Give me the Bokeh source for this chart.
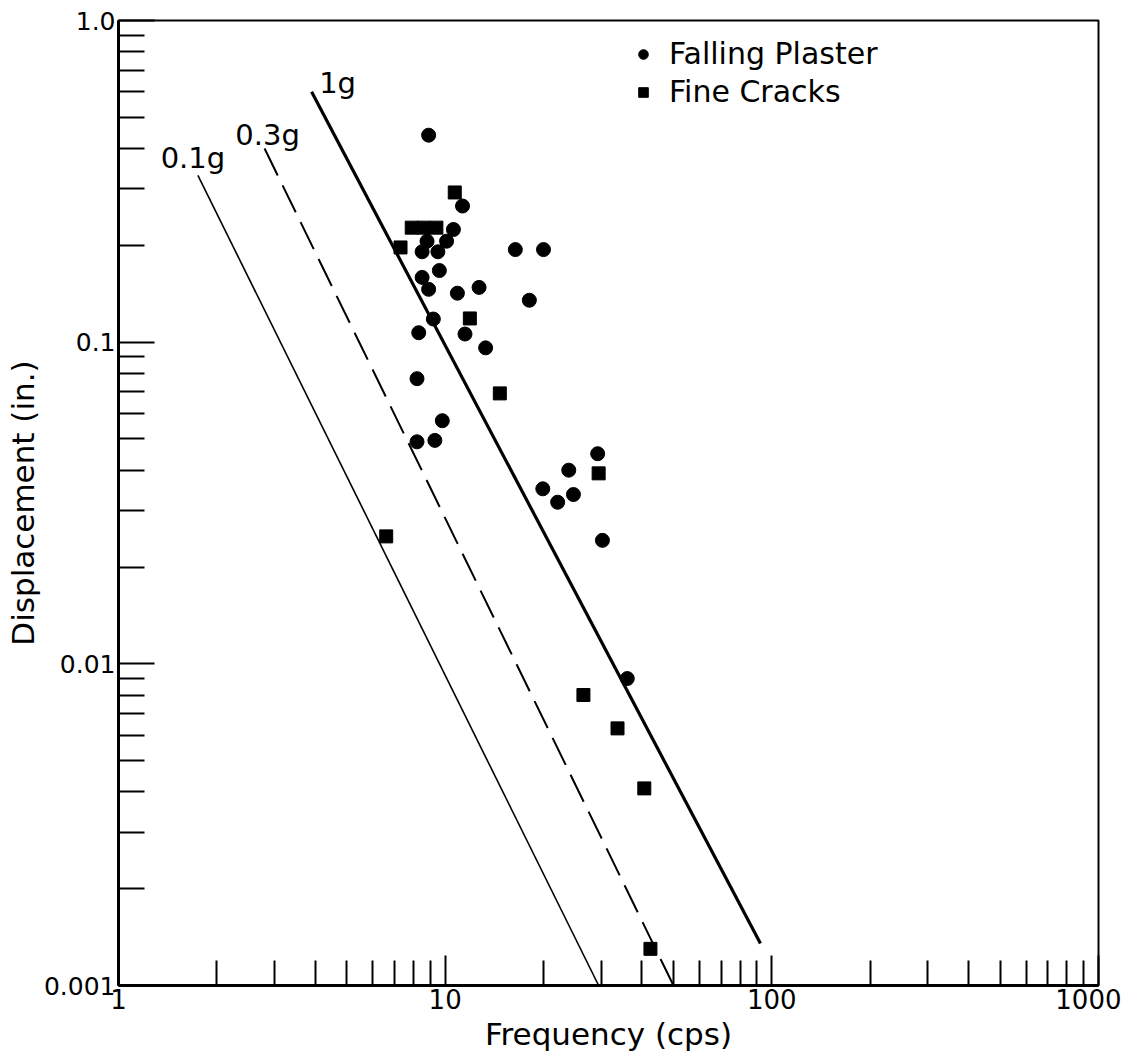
from bokeh.plotting import figure
from bokeh.models import FixedTicker, CustomJSTickFormatter, Legend, LegendItem
from bokeh.core.properties import value
from bokeh.embed import file_html
from bokeh.resources import INLINE

# ---- data ----
plaster_f = [8.9, 11.3, 10.6, 10.1, 8.8, 8.5, 9.5, 9.6, 8.5, 8.9, 10.9, 12.7, 16.4, 20.0, 18.1,
             9.2, 8.3, 11.5, 13.3, 8.2, 9.8, 8.2, 9.3, 29.3, 23.9, 19.9, 24.7, 22.1, 30.3, 36.1]
plaster_d = [0.44, 0.265, 0.224, 0.206, 0.206, 0.191, 0.191, 0.167, 0.159, 0.146, 0.142, 0.148,
             0.194, 0.194, 0.135, 0.118, 0.107, 0.106, 0.096, 0.077, 0.057, 0.049, 0.0495, 0.045,
             0.040, 0.035, 0.0336, 0.0318, 0.0242, 0.009]

cracks_f = [10.7, 7.9, 8.6, 9.4, 7.3, 11.9, 14.7, 29.5, 6.6, 26.5, 33.7, 40.7, 42.5]
cracks_d = [0.292, 0.227, 0.227, 0.227, 0.197, 0.1185, 0.0693, 0.0391, 0.0249, 0.0080, 0.0063,
            0.0041, 0.0013]

g01_f = [1.75, 29.5]
g01_d = [0.33, 0.001]
g03_f = [2.8, 50.0]
g03_d = [0.40, 0.001]
g1_f = [3.9, 92.3]
g1_d = [0.60, 0.00135]

line_labels = ["0.1g", "0.3g", "1g"]
series_names = ["Falling Plaster", "Fine Cracks"]

x_major = [1, 10, 100, 1000]
x_tick_labels = ["1", "10", "100", "1000"]
y_major = [0.001, 0.01, 0.1, 1.0]
y_tick_labels = ["0.001", "0.01", "0.1", "1.0"]
multipliers = [2, 3, 4, 5, 6, 7, 8, 9]
x_minor = [m * d for d in [1, 10, 100] for m in multipliers]
y_minor = [m * d for d in [0.001, 0.01, 0.1] for m in multipliers]

FONT = "DejaVu Sans"

p = figure(width=1121, height=1057, x_axis_type="log", y_axis_type="log",
           x_range=(1, 1000), y_range=(0.001, 1.0),
           output_backend="svg", toolbar_location=None,
           min_border_left=118, min_border_right=23, min_border_top=20, min_border_bottom=72)

p.grid.visible = False
p.outline_line_color = "black"
p.outline_line_width = 2
p.background_fill_color = "white"
p.border_fill_color = "white"

# axes
p.xaxis.ticker = FixedTicker(ticks=x_major, minor_ticks=x_minor)
p.yaxis.ticker = FixedTicker(ticks=y_major, minor_ticks=y_minor)
p.xaxis.formatter = CustomJSTickFormatter(args=dict(labels=x_tick_labels),
                                          code="return labels[Math.round(Math.log10(tick))];")
p.yaxis.formatter = CustomJSTickFormatter(args=dict(labels=y_tick_labels),
                                          code="return labels[Math.round(Math.log10(tick)) + 3];")
for ax in (p.xaxis, p.yaxis):
    ax.axis_line_width = 3
    ax.axis_line_color = "black"
    ax.major_tick_out = 0
    ax.minor_tick_out = 0
    ax.major_tick_line_width = 2
    ax.minor_tick_line_width = 2
    ax.major_label_text_font = FONT
    ax.major_label_text_color = "black"
    ax.axis_label_text_font = FONT
    ax.axis_label_text_font_style = "normal"
    ax.axis_label_text_color = "black"
p.xaxis.major_label_text_font_size = "26px"
p.yaxis.major_label_text_font_size = "25px"
p.xaxis.major_tick_in = 30
p.xaxis.minor_tick_in = 25
p.yaxis.major_tick_in = 36
p.yaxis.minor_tick_in = 26
p.xaxis.major_label_standoff = 3
p.yaxis.major_label_standoff = 3
p.xaxis.axis_label = "Frequency (cps)"
p.yaxis.axis_label = "Displacement (in.)"
p.xaxis.axis_label_text_font_size = "31px"
p.yaxis.axis_label_text_font_size = "31px"
p.xaxis.axis_label_standoff = 4
p.yaxis.axis_label_standoff = 0

# acceleration lines
p.line(g01_f, g01_d, line_color="black", line_width=1.6)
p.line(g03_f, g03_d, line_color="black", line_width=2, line_dash="30 11")
p.line(g1_f, g1_d, line_color="black", line_width=3.2)

lbl = dict(text_font=value(FONT), text_font_size="29px", text_color="black",
           text_align="center", text_baseline="alphabetic")
p.text(x=[g01_f[0]], y=[g01_d[0]], text=[line_labels[0]], x_offset=-5, y_offset=-17, **lbl)
p.text(x=[g03_f[0]], y=[g03_d[0]], text=[line_labels[1]], x_offset=3, y_offset=-14, **lbl)
p.text(x=[g1_f[0]], y=[g1_d[0]], text=[line_labels[2]], x_offset=26, y_offset=-9, **lbl)

# data points
r_pl = p.scatter(plaster_f, plaster_d, marker="circle", size=14,
                 fill_color="black", line_color="black")
r_cr = p.scatter(cracks_f, cracks_d, marker="square", size=13,
                 fill_color="black", line_color="black")

legend = Legend(items=[LegendItem(label=series_names[0], renderers=[r_pl]),
                       LegendItem(label=series_names[1], renderers=[r_cr])],
                location=(513, 876), padding=0, margin=0, spacing=3,
                label_standoff=14, glyph_width=24, glyph_height=24,
                label_text_font=FONT, label_text_font_size="30px",
                label_text_color="black",
                border_line_alpha=0, background_fill_alpha=0)
p.add_layout(legend)

open("out.html", "w").write(file_html(p, INLINE))
